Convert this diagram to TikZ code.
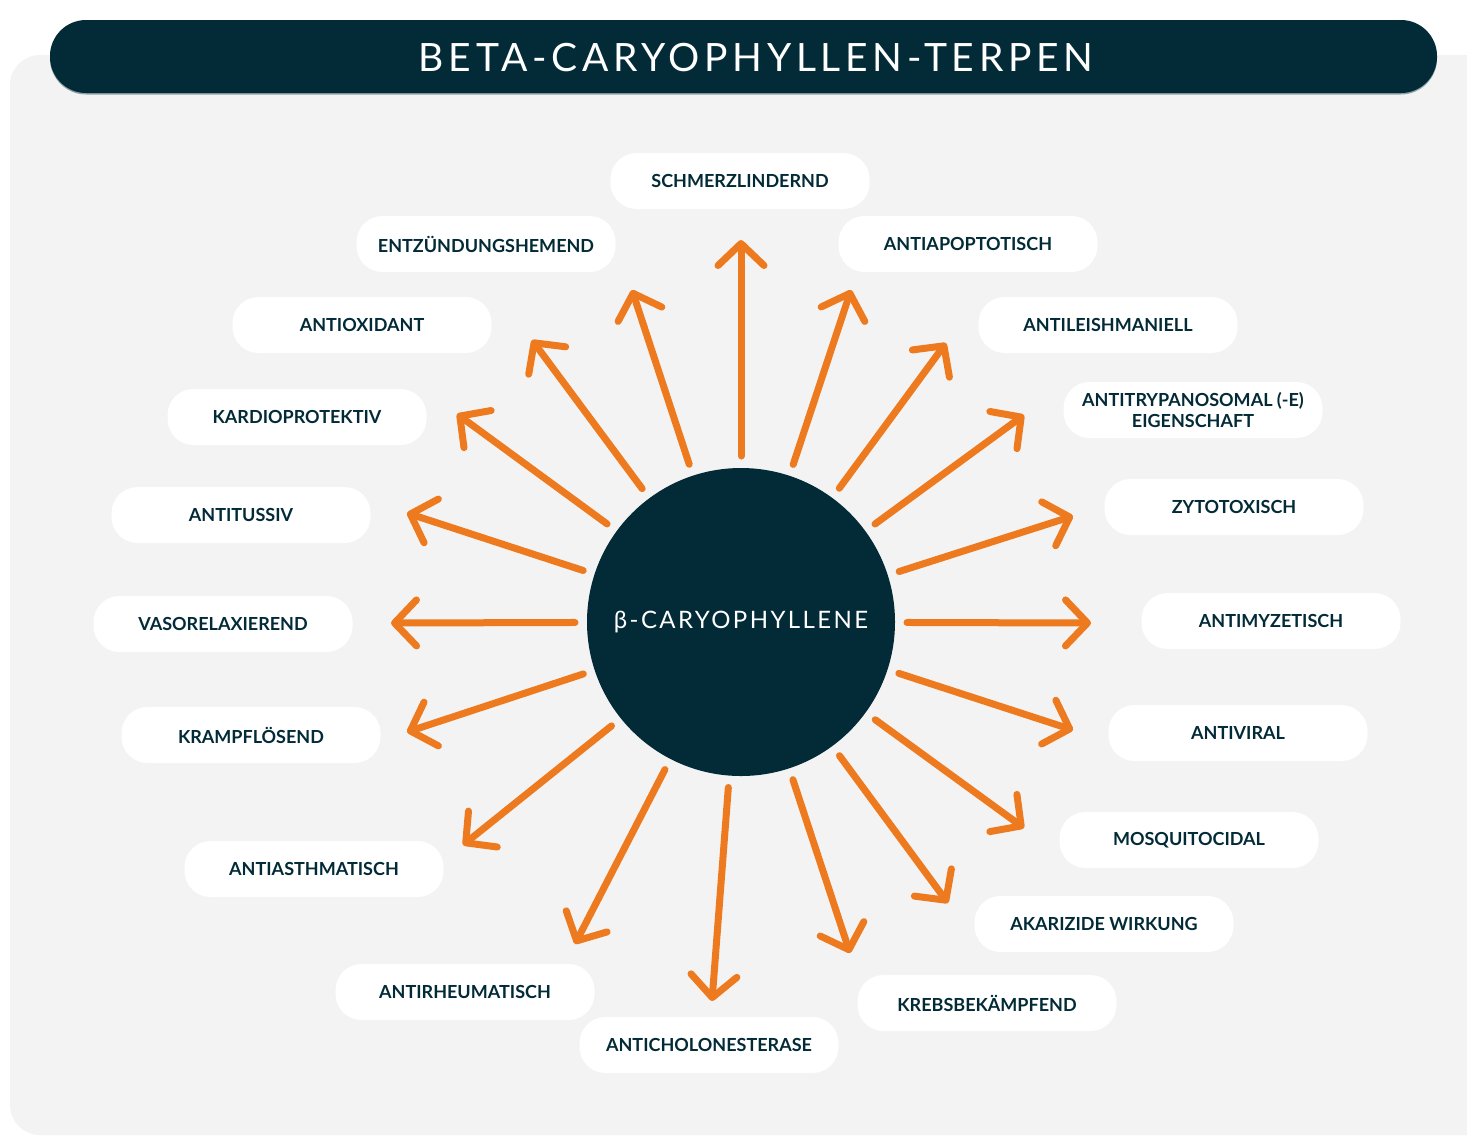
\documentclass[tikz,border=0pt]{standalone}
\usepackage{fontspec}
\setmainfont{Lato}
\newfontfamily\BCPtitlefont[LetterSpace=12]{Lato}
\newfontfamily\BCPcenterfont[LetterSpace=10]{Lato}
\usetikzlibrary{arrows.meta}
\definecolor{BCPNavy}{HTML}{022B37}
\definecolor{BCPOrange}{HTML}{EE7A1F}
\definecolor{BCPGray}{HTML}{F3F3F3}
\definecolor{BCPShadow}{HTML}{8FA3A9}

\begin{document}
\begin{tikzpicture}[x=0.5pt,y=-0.5pt,
    pill/.style={fill=white, rounded corners=13pt, minimum width=129.5pt, minimum height=28pt,
      inner sep=0pt, align=center, text=BCPNavy, font=\bfseries\fontsize{9}{10.5}\selectfont},
    ray/.style={draw=BCPOrange, line width=3.5pt, line cap=round, shorten <=6pt,
      -{Straight Barb[length=11pt,width=23pt,round]}}]
    \clip (0,0) rectangle (1467,1137);
    \fill[BCPGray, rounded corners=15pt] (10,55) rectangle (1500,1135);
    \fill[BCPShadow, rounded corners=18pt] (50,21.5) rectangle (1437,94.5);
    \fill[BCPNavy, rounded corners=18pt] (50,20) rectangle (1437,93);
    \node[text=white, font=\BCPtitlefont\fontsize{19.5}{22}\selectfont] (title) at (756,58) {BETA-CARYOPHYLLEN-TERPEN};
    \node[circle, fill=BCPNavy, minimum size=154pt, outer sep=0pt, text=white,
      font=\BCPcenterfont\fontsize{12}{14}\selectfont] (bc) at (741,622) {β-CARYOPHYLLENE};
    \node[pill] (schmerz) at (740,181) {SCHMERZLINDERND};
    \node[pill] (entz) at (486,244) {ENTZÜNDUNGSHEMEND};
    \node[pill] (apopt) at (968,244) {ANTIAPOPTOTISCH};
    \node[pill] (oxid) at (362,325) {ANTIOXIDANT};
    \node[pill] (leish) at (1108,325) {ANTILEISHMANIELL};
    \node[pill] (kardio) at (297,417) {KARDIOPROTEKTIV};
    \node[pill] (trypa) at (1193,410) {ANTITRYPANOSOMAL (-E)\\EIGENSCHAFT};
    \node[pill] (tussiv) at (241,515) {ANTITUSSIV};
    \node[pill] (zyto) at (1234,507) {ZYTOTOXISCH};
    \node[pill] (vaso) at (223,624) {VASORELAXIEREND};
    \node[pill] (myzet) at (1271,621) {ANTIMYZETISCH};
    \node[pill] (krampf) at (251,735) {KRAMPFLÖSEND};
    \node[pill] (viral) at (1238,733) {ANTIVIRAL};
    \node[pill] (asthma) at (314,869) {ANTIASTHMATISCH};
    \node[pill] (mosq) at (1189,840) {MOSQUITOCIDAL};
    \node[pill] (akari) at (1104,924) {AKARIZIDE WIRKUNG};
    \node[pill] (rheuma) at (465,992) {ANTIRHEUMATISCH};
    \node[pill] (krebs) at (987,1003) {KREBSBEKÄMPFEND};
    \node[pill] (cholon) at (709,1045) {ANTICHOLONESTERASE};
    \coordinate (tip-schmerz) at (741,240);
    \coordinate (tip-apopt) at (851,290);
    \coordinate (tip-leish) at (946,343);
    \coordinate (tip-trypa) at (1024,415);
    \coordinate (tip-zyto) at (1073,516);
    \coordinate (tip-myzet) at (1091,623);
    \coordinate (tip-viral) at (1073,730);
    \coordinate (tip-mosq) at (1024,828);
    \coordinate (tip-akari) at (948,903);
    \coordinate (tip-krebs) at (850,953);
    \coordinate (tip-cholon) at (712,1001);
    \coordinate (tip-rheuma) at (575,944);
    \coordinate (tip-asthma) at (463,845);
    \coordinate (tip-krampf) at (407,732);
    \coordinate (tip-vaso) at (391,623);
    \coordinate (tip-tussiv) at (407,513);
    \coordinate (tip-kardio) at (457,414);
    \coordinate (tip-oxid) at (532,340);
    \coordinate (tip-entz) at (632,290);
    \draw[ray] (bc) -- (tip-schmerz);
    \draw[ray] (bc) -- (tip-apopt);
    \draw[ray] (bc) -- (tip-leish);
    \draw[ray] (bc) -- (tip-trypa);
    \draw[ray] (bc) -- (tip-zyto);
    \draw[ray] (bc) -- (tip-myzet);
    \draw[ray] (bc) -- (tip-viral);
    \draw[ray] (bc) -- (tip-mosq);
    \draw[ray] (bc) -- (tip-akari);
    \draw[ray] (bc) -- (tip-krebs);
    \draw[ray] (bc) -- (tip-cholon);
    \draw[ray] (bc) -- (tip-rheuma);
    \draw[ray] (bc) -- (tip-asthma);
    \draw[ray] (bc) -- (tip-krampf);
    \draw[ray] (bc) -- (tip-vaso);
    \draw[ray] (bc) -- (tip-tussiv);
    \draw[ray] (bc) -- (tip-kardio);
    \draw[ray] (bc) -- (tip-oxid);
    \draw[ray] (bc) -- (tip-entz);
\end{tikzpicture}
\end{document}
